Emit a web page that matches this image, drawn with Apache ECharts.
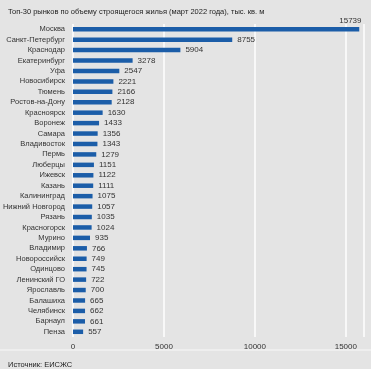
<!DOCTYPE html>
<html><head><meta charset="utf-8">
<script src="https://cdn.jsdelivr.net/npm/echarts@6/dist/echarts.min.js"></script>
<style>html,body{margin:0;padding:0;background:#e4e4e4}#c{width:371px;height:369px}</style>
</head><body><div id="c"></div>
<script>
const categories = ["Москва","Санкт-Петербург","Краснодар","Екатеринбург","Уфа","Новосибирск","Тюмень","Ростов-на-Дону","Красноярск","Воронеж","Самара","Владивосток","Пермь","Люберцы","Ижевск","Казань","Калининград","Нижний Новгород","Рязань","Красногорск","Мурино","Владимир","Новороссийск","Одинцово","Ленинский ГО","Ярославль","Балашиха","Челябинск","Барнаул","Пенза"];
const values = [15739,8755,5904,3278,2547,2221,2166,2128,1630,1433,1356,1343,1279,1151,1122,1111,1075,1057,1035,1024,935,766,749,745,722,700,665,662,661,557];
const xTicks = [0,5000,10000,15000];
const FONT = '"Liberation Sans Narrow","Liberation Sans",Arial,sans-serif';
const chart = echarts.init(document.getElementById('c'), null, {renderer:'canvas'});
const seriesData = values.map((v,i)=> i===0 ? {value:v,label:{position:'right',offset:[-25,-8]}} : v);
chart.setOption({
  backgroundColor:'#e4e4e4',
  animation:false,
  title:[{text:'Топ-30 рынков по объему строящегося жилья (март 2022 года), тыс. кв. м',left:3,top:3,textStyle:{fontFamily:FONT,fontSize:7.5,fontWeight:'normal',color:'#222'}},
         {text:'Источник: ЕИСЖС',left:3,top:356,textStyle:{fontFamily:FONT,fontSize:7.5,fontWeight:'normal',color:'#222'}}],
  graphic:[{type:'line',shape:{x1:0,y1:350,x2:371,y2:350},style:{stroke:'#f2f2f2',lineWidth:1.5}}],
  grid:{left:73,right:7,top:24,bottom:32,containLabel:false,outerBoundsMode:'none'},
  xAxis:{type:'value',min:0,max:16000,interval:5000,
    axisLine:{show:false},axisTick:{show:false},
    splitLine:{show:true,lineStyle:{color:'#ffffff',width:1.5}},
    axisLabel:{fontFamily:FONT,fontSize:8,color:'#333',margin:6,
      formatter:v=>xTicks.includes(v)?String(v):''}},
  yAxis:{type:'category',data:categories,inverse:true,
    axisLine:{show:false},axisTick:{show:false},
    axisLabel:{fontFamily:FONT,fontSize:7.5,color:'#333',margin:8,interval:0}},
  series:[{type:'bar',data:seriesData,barWidth:4.5,
    itemStyle:{color:'#1b5da8'},
    label:{show:true,position:'right',distance:5,fontFamily:FONT,fontSize:8,color:'#333'}}]
});
</script></body></html>
